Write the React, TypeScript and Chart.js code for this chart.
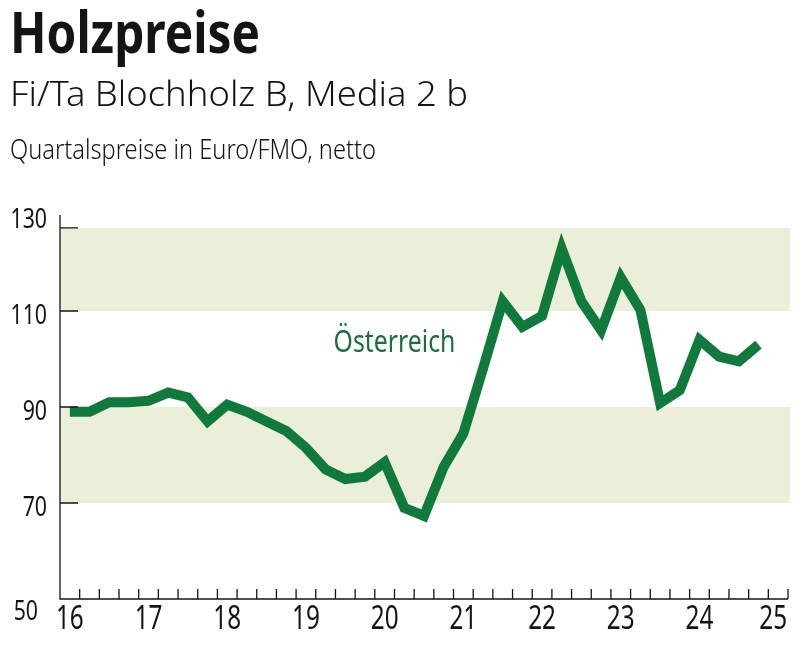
import React, { useEffect, useLayoutEffect, useRef } from 'react';
import { Chart, registerables } from 'chart.js';

Chart.register(...registerables);

// ---------- data ----------
const quarters = [
  '16 Q1', '16 Q2', '16 Q3', '16 Q4',
  '17 Q1', '17 Q2', '17 Q3', '17 Q4',
  '18 Q1', '18 Q2', '18 Q3', '18 Q4',
  '19 Q1', '19 Q2', '19 Q3', '19 Q4',
  '20 Q1', '20 Q2', '20 Q3', '20 Q4',
  '21 Q1', '21 Q2', '21 Q3', '21 Q4',
  '22 Q1', '22 Q2', '22 Q3', '22 Q4',
  '23 Q1', '23 Q2', '23 Q3', '23 Q4',
  '24 Q1', '24 Q2', '24 Q3', '24 Q4',
  '25 Q1',
];
const yearLabels = ['16', '17', '18', '19', '20', '21', '22', '23', '24', '25'];
const prices: (number | null)[] = [
  89, 89, 91, 91,
  91.3, 93, 92, 87,
  90.5, 89, 87, 85,
  81.5, 77, 75, 75.5,
  78.5, 69, 67.3, 77.5,
  84.5, 98, 112, 106.7,
  109, 123, 112, 106,
  117, 110.2, 90.8, 93.5,
  104, 100.5, 99.5, 103,
  null,
];
const yTickValues = [130, 110, 90, 70, 50];
const yTickMarks = [127.3, 110, 90, 70];
const bandRanges: [number, number][] = [[70, 90], [110, 127.3]];
const seriesName = 'Österreich';
const titleText = 'Holzpreise';
const subtitleText = 'Fi/Ta Blochholz B, Media 2 b';
const noteText = 'Quartalspreise in Euro/FMO, netto';

// ---------- styles ----------
const FONT = '"Noto Sans", "Open Sans", sans-serif';
const LINE_GREEN = '#0f7a3c';
const TEXT_GREEN = '#1a6f3d';
const BAND = '#ebefda';
const INK = '#141414';
const CONDENSE = 0.76;

const decorPlugin = {
  id: 'decor',
  beforeDatasetsDraw(chart: any) {
    const { ctx, chartArea: a, scales } = chart;
    const y = scales.y;
    ctx.save();
    ctx.fillStyle = BAND;
    bandRanges.forEach(([lo, hi]) => {
      const t = y.getPixelForValue(hi);
      const b = y.getPixelForValue(lo);
      ctx.fillRect(a.left, t, a.right + 2 - a.left, b - t);
    });
    ctx.restore();
  },
  afterDatasetsDraw(chart: any) {
    const { ctx, chartArea: a, scales } = chart;
    const x = scales.x;
    const y = scales.y;
    ctx.save();
    ctx.strokeStyle = INK;
    ctx.lineWidth = 1.3;
    // axes
    ctx.beginPath();
    ctx.moveTo(a.left, y.getPixelForValue(130));
    ctx.lineTo(a.left, a.bottom);
    ctx.lineTo(a.right, a.bottom);
    ctx.stroke();
    // y tick marks (inside)
    ctx.beginPath();
    yTickMarks.forEach((v) => {
      const py = y.getPixelForValue(v);
      ctx.moveTo(a.left, py);
      ctx.lineTo(a.left + 18, py);
    });
    // x tick marks at category boundaries (inside)
    const step = x.getPixelForValue(1) - x.getPixelForValue(0);
    for (let i = 1; i <= quarters.length; i++) {
      const px = x.getPixelForValue(i) - step / 2;
      ctx.moveTo(px, a.bottom);
      ctx.lineTo(px, a.bottom - 10);
    }
    ctx.stroke();

    // y labels
    ctx.fillStyle = INK;
    ctx.font = `28px ${FONT}`;
    ctx.textAlign = 'right';
    ctx.textBaseline = 'middle';
    yTickValues.forEach((v) => {
      const py = y.getPixelForValue(v) + (v === 50 ? 13 : 5);
      const px = v === 50 ? 38 : 47;
      ctx.save();
      ctx.translate(px, py);
      ctx.scale(CONDENSE, 1);
      ctx.fillText(String(v), 0, 0);
      ctx.restore();
    });

    // x labels (years, at first quarter)
    ctx.font = `32px ${FONT}`;
    ctx.textAlign = 'center';
    yearLabels.forEach((lab, k) => {
      let px = x.getPixelForValue(k * 4);
      if (k === yearLabels.length - 1) px -= 5;
      ctx.save();
      ctx.translate(px, a.bottom + 21);
      ctx.scale(CONDENSE, 1);
      ctx.fillText(lab, 0, 0);
      ctx.restore();
    });

    // series label
    ctx.fillStyle = TEXT_GREEN;
    ctx.font = `31px ${FONT}`;
    ctx.textAlign = 'center';
    ctx.save();
    ctx.translate(x.getPixelForValue(16.5), y.getPixelForValue(103.3));
    ctx.scale(0.8, 1);
    ctx.fillText(seriesName, 0, 0);
    ctx.restore();

    ctx.restore();
  },
};

function FitText(props: { text: string; width: number; style: React.CSSProperties }) {
  const ref = useRef<HTMLSpanElement>(null);
  useLayoutEffect(() => {
    const el = ref.current;
    if (!el) return;
    el.style.transform = 'none';
    const w = el.getBoundingClientRect().width;
    if (w > 0) el.style.transform = `scaleX(${props.width / w})`;
  }, [props.text, props.width]);
  return (
    <span
      ref={ref}
      style={{
        position: 'absolute',
        whiteSpace: 'nowrap',
        transformOrigin: 'left top',
        lineHeight: 1,
        fontFamily: FONT,
        color: INK,
        ...props.style,
      }}
    >
      {props.text}
    </span>
  );
}

export default function App() {
  const canvasRef = useRef<HTMLCanvasElement>(null);

  useEffect(() => {
    const canvas = canvasRef.current;
    if (!canvas) return;
    const chart = new Chart(canvas, {
      type: 'line',
      data: {
        labels: quarters,
        datasets: [
          {
            label: seriesName,
            data: prices,
            borderColor: LINE_GREEN,
            borderWidth: 10,
            borderJoinStyle: 'miter',
            borderCapStyle: 'butt',
            pointRadius: 0,
            pointHoverRadius: 0,
            tension: 0,
            fill: false,
            spanGaps: false,
          },
        ],
      },
      options: {
        animation: false,
        responsive: false,
        events: [],
        layout: { padding: { left: 60, right: 18, top: 215, bottom: 67 } },
        plugins: {
          legend: { display: false },
          tooltip: { enabled: false },
          title: { display: false },
        },
        scales: {
          x: { type: 'category', display: false, offset: true },
          y: { type: 'linear', display: false, min: 50, max: 130 },
        },
      },
      plugins: [decorPlugin],
    });
    return () => chart.destroy();
  }, []);

  return (
    <div
      style={{
        position: 'absolute',
        left: 0,
        top: 0,
        width: 806,
        height: 666,
        background: '#fff',
        overflow: 'hidden',
      }}
    >
      <canvas
        ref={canvasRef}
        width={806}
        height={666}
        style={{ position: 'absolute', left: 0, top: 0, display: 'block' }}
      />
      <FitText text={titleText} width={250} style={{ left: 10, top: 3, fontSize: 57, fontWeight: 700 }} />
      <FitText text={subtitleText} width={458} style={{ left: 10, top: 75, fontSize: 35, fontWeight: 300 }} />
      <FitText text={noteText} width={366} style={{ left: 10, top: 135, fontSize: 27, fontWeight: 300 }} />
    </div>
  );
}
